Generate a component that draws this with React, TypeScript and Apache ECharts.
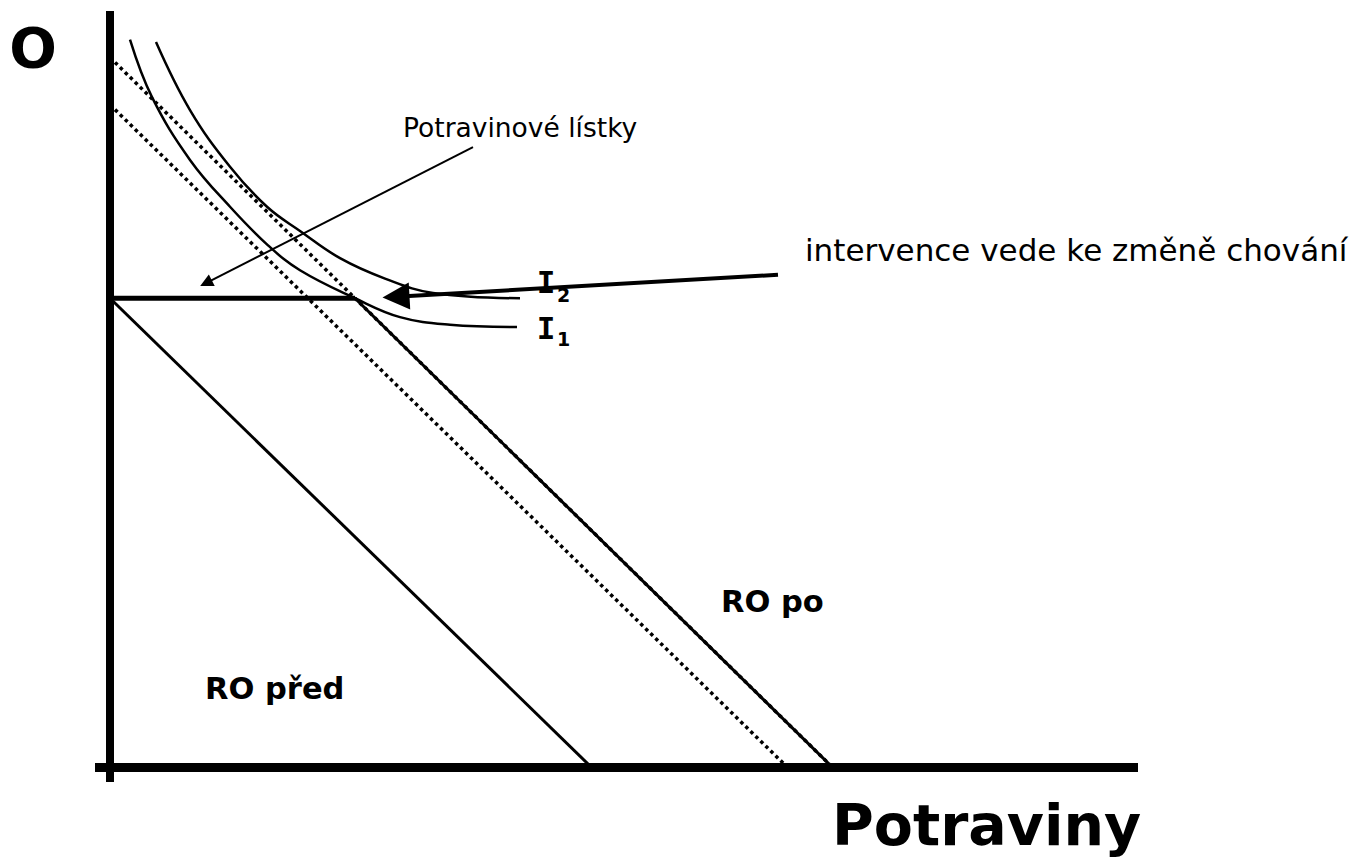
import React, { useEffect, useRef } from "react";
import * as echarts from "echarts";

// Budget lines (Potraviny on x, O on y), in goods units
const budgetBefore: number[][] = [[0, 62], [48.1, 0]];
const budgetAfterFlat: number[][] = [[0, 62], [24.5, 62]];
const budgetAfterSlope: number[][] = [[24.5, 62], [72.2, 0]];
const dottedUpper: number[][] = [[0, 93.85], [72.2, 0]];
const dottedLower: number[][] = [[0, 87.6], [67.7, 0]];

// Indifference curves
const indiff1: number[][] = [
  [2.0, 96.2], [4.2, 88.6], [8.0, 80.3], [12.0, 74.1], [15.8, 69.0],
  [19.0, 65.7], [24.5, 62.0], [29.0, 59.5], [34.0, 58.5], [40.7, 58.2],
];
const indiff2: number[][] = [
  [4.6, 95.9], [8.0, 86.9], [12.0, 79.4], [15.7, 74.1], [19.0, 70.9],
  [23.0, 67.3], [27.5, 64.6], [32.3, 62.7], [41.0, 62.0],
];

// Annotation arrows
const arrowStamps: number[][] = [[36.3, 82.0], [9.6, 64.0]];
const arrowIntervention: number[][] = [[66.8, 65.1], [28.6, 62.2]];

const FONT = "'DejaVu Sans', Verdana, sans-serif";

export default function App() {
  const ref = useRef<HTMLDivElement>(null);
  useEffect(() => {
    if (!ref.current) return;
    const chart = echarts.init(ref.current, undefined, { renderer: "svg" });
    const solid = (data: number[][], width: number) => ({
      type: "line",
      data,
      symbol: "none",
      silent: true,
      lineStyle: { color: "#000", width, cap: "butt" },
    });
    const dotted = (data: number[][]) => ({
      type: "line",
      data,
      symbol: "none",
      silent: true,
      lineStyle: { color: "#000", width: 3.5, type: [3.5, 3.5], cap: "butt" },
    });
    const curve = (data: number[][]) => ({
      type: "line",
      data,
      symbol: "none",
      smooth: 0.4,
      silent: true,
      lineStyle: { color: "#000", width: 2.5 },
    });
    const text = (
      str: string,
      x: number,
      y: number,
      size: number,
      bold: boolean,
      align: string = "left",
      family: string = FONT
    ) => ({
      type: "text",
      x,
      y,
      silent: true,
      style: {
        text: str,
        fill: "#000",
        font: `${bold ? "bold " : ""}${size}px ${family}`,
        align,
        verticalAlign: "middle",
      },
    });
    chart.setOption({
      animation: false,
      backgroundColor: "#fff",
      grid: { left: 95, top: 11, width: 1043, height: 771, containLabel: false },
      xAxis: {
        type: "value",
        min: -1.5,
        max: 102.8,
        axisLine: { onZero: true, lineStyle: { color: "#000", width: 9, cap: "butt" } },
        axisTick: { show: false },
        axisLabel: { show: false },
        splitLine: { show: false },
      },
      yAxis: {
        type: "value",
        min: -2,
        max: 100,
        axisLine: { onZero: true, lineStyle: { color: "#000", width: 8, cap: "butt" } },
        axisTick: { show: false },
        axisLabel: { show: false },
        splitLine: { show: false },
      },
      series: [
        dotted(dottedUpper),
        dotted(dottedLower),
        solid(budgetBefore, 3),
        solid(budgetAfterSlope, 3),
        solid(budgetAfterFlat, 5),
        curve(indiff1),
        curve(indiff2),
        {
          type: "lines",
          coordinateSystem: "cartesian2d",
          silent: true,
          symbol: ["none", "triangle"],
          symbolSize: [9, 13],
          lineStyle: { color: "#000", width: 2, opacity: 1, curveness: 0 },
          data: [{ coords: arrowStamps }],
        },
        {
          type: "lines",
          coordinateSystem: "cartesian2d",
          silent: true,
          symbol: ["none", "triangle"],
          symbolSize: [24, 27],
          lineStyle: { color: "#000", width: 4, opacity: 1, curveness: 0 },
          data: [{ coords: arrowIntervention }],
        },
      ],
      graphic: [
        text("O", 33, 47, 56, true, "center"),
        text("Potraviny", 832, 825, 57, true),
        text("RO po", 721, 601, 30.5, true),
        text("RO před", 205, 688, 30.5, true),
        text("Potravinové lístky", 403, 127, 26.5, false),
        text("intervence vede ke změně chování", 805, 250, 31, false),
        text("I", 546, 282, 31, true, "center", "'DejaVu Sans Mono', monospace"),
        text("2", 557, 295, 19, true),
        text("I", 546, 328, 31, true, "center", "'DejaVu Sans Mono', monospace"),
        text("1", 557, 339, 19, true),
      ],
    });
    return () => chart.dispose();
  }, []);
  return (
    <div
      ref={ref}
      style={{ position: "absolute", left: 0, top: 0, width: 1368, height: 859 }}
    />
  );
}
